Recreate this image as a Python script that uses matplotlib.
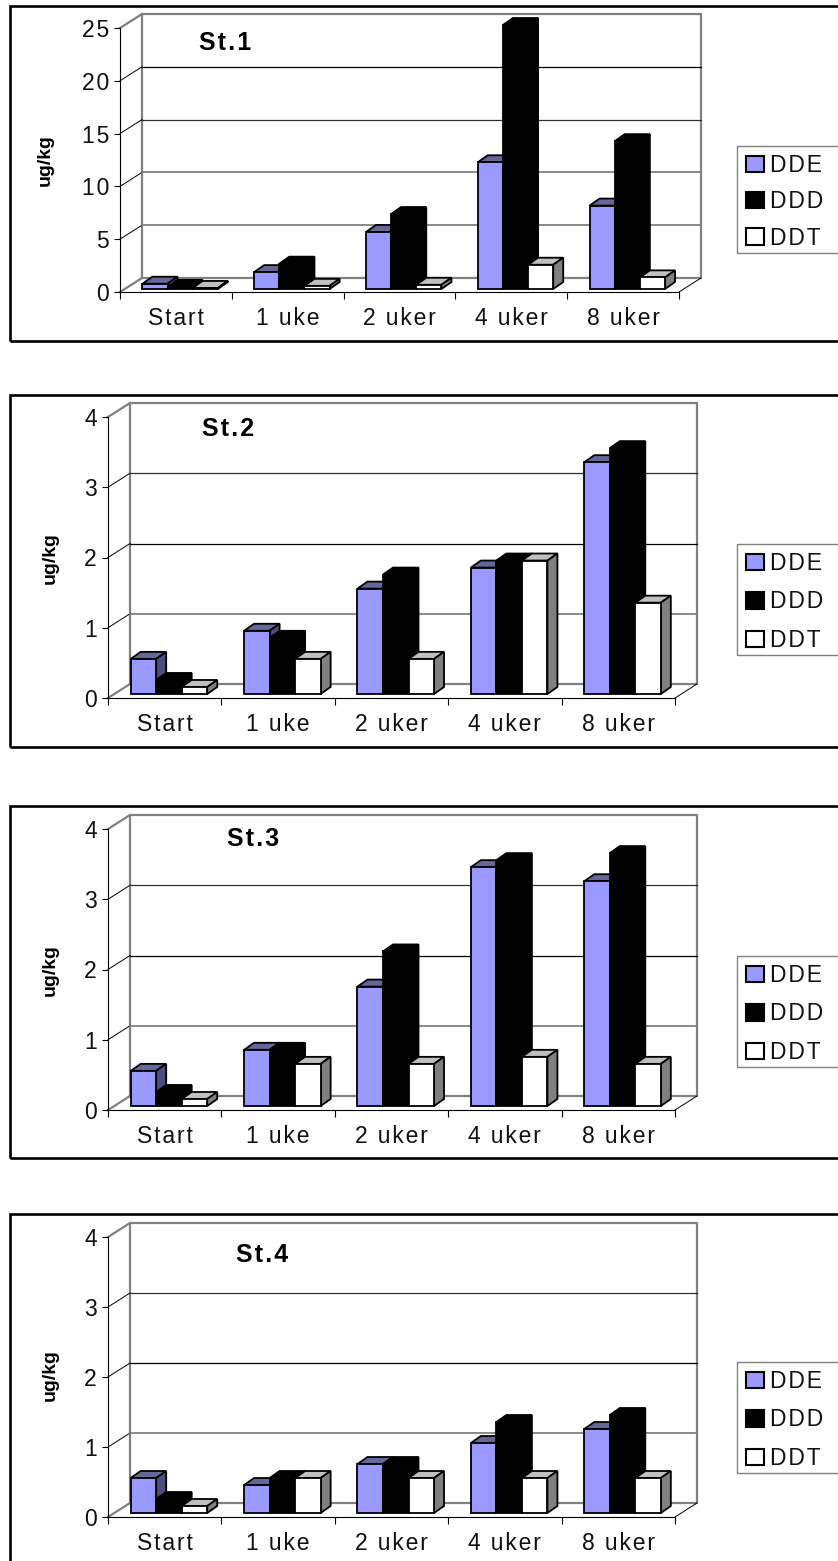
"""Four stations of DDE/DDD/DDT levels, drawn as fake-3D Excel style bars."""
import matplotlib
matplotlib.use("Agg")
import matplotlib.pyplot as plt
from matplotlib.patches import Patch, Polygon, Rectangle

plt.rcParams["font.family"] = ["Liberation Sans", "DejaVu Sans"]

WIDTH, HEIGHT = 838, 1561
HAIR = "\u200a"

categories = ["Start", "1 uke", "2 uker", "4 uker", "8 uker"]
series_names = ["DDE", "DDD", "DDT"]

st1_dde = [0.5, 1.6, 5.4, 12.0, 7.9]
st1_ddd = [0.2, 2.4, 7.1, 25.0, 14.0]
st1_ddt = [0.1, 0.3, 0.4, 2.3, 1.1]

st2_dde = [0.5, 0.9, 1.5, 1.8, 3.3]
st2_ddd = [0.2, 0.8, 1.7, 1.9, 3.5]
st2_ddt = [0.1, 0.5, 0.5, 1.9, 1.3]

st3_dde = [0.5, 0.8, 1.7, 3.4, 3.2]
st3_ddd = [0.2, 0.8, 2.2, 3.5, 3.6]
st3_ddt = [0.1, 0.6, 0.6, 0.7, 0.6]

st4_dde = [0.5, 0.4, 0.7, 1.0, 1.2]
st4_ddd = [0.2, 0.5, 0.7, 1.3, 1.4]
st4_ddt = [0.1, 0.5, 0.5, 0.5, 0.5]

st1_ticks = [0, 5, 10, 15, 20, 25]
other_ticks = [0, 1, 2, 3, 4]

# layout in reference pixels, kept apart from the values above
PANELS = [
    dict(title="St.1", values=(st1_dde, st1_ddd, st1_ddt), ticks=st1_ticks,
         left=120, right=679, zero=292, top=28, frame=(6, 341), lift=3,
         title_xy=(225, 43), label_y=160, label_x=45,
         legend_box=(146, 253), legend_gap=0.58,
         grid=["#808080", "#808080", "#303030", "#000000"]),
    dict(title="St.2", values=(st2_dde, st2_ddd, st2_ddt), ticks=other_ticks,
         left=108, right=675, zero=698, top=417, frame=(395, 747), lift=4,
         title_xy=(228, 429), label_y=558, label_x=50,
         legend_box=(544, 655), legend_gap=0.67,
         grid=["#808080", "#000000", "#303030"]),
    dict(title="St.3", values=(st3_dde, st3_ddd, st3_ddt), ticks=other_ticks,
         left=108, right=675, zero=1110, top=829, frame=(806, 1158), lift=4,
         title_xy=(253, 839), label_y=970, label_x=50,
         legend_box=(956, 1067), legend_gap=0.67,
         grid=["#808080", "#000000", "#303030"]),
    dict(title="St.4", values=(st4_dde, st4_ddd, st4_ddt), ticks=other_ticks,
         left=108, right=675, zero=1517, top=1237, frame=(1214, 1600), lift=4,
         title_xy=(262, 1255), label_y=1375, label_x=50,
         legend_box=(1362, 1473), legend_gap=0.67,
         grid=["#808080", "#000000", "#303030"]),
]

# front, top, side colours of each series
FACES = [("#9999ff", "#666699", "#4d4d80"),
         ("#000000", "#000000", "#000000"),
         ("#ffffff", "#c0c0c0", "#808080")]

WALL_DX, WALL_DY = 22, 14    # depth of the chart box
BAR_DX, BAR_DY = 10, 7       # depth of one bar
BAR_W = 0.225
GROUP_PAD = 0.2
WALL = "#808080"
LABEL_SIZE = 16.5


def spaced(text):
    return HAIR.join(text)


def fig_xy(x, y):
    return x / WIDTH, 1 - y / HEIGHT


def draw_panel(fig, p):
    ax = fig.add_axes([p["left"] / WIDTH, 1 - p["zero"] / HEIGHT,
                       (p["right"] - p["left"]) / WIDTH,
                       (p["zero"] - p["top"]) / HEIGHT])
    ymax = p["ticks"][-1]
    ax.set_xlim(0, len(categories))
    ax.set_ylim(0, ymax)
    ax.patch.set_visible(False)

    # data units per reference pixel
    ux = len(categories) / (p["right"] - p["left"])
    uy = ymax / (p["zero"] - p["top"])
    wall_x, wall_y = WALL_DX * ux, WALL_DY * uy
    n = len(categories)

    # back wall and floor
    ax.plot([wall_x, wall_x, n + wall_x, n + wall_x, wall_x],
            [wall_y, ymax + wall_y, ymax + wall_y, wall_y, wall_y],
            color=WALL, lw=1.6, clip_on=False, zorder=1)
    ax.plot([0, wall_x], [ymax, ymax + wall_y], color=WALL, lw=1.6,
            clip_on=False, zorder=1)
    ax.plot([0, wall_x], [0, wall_y], color=WALL, lw=1.6, clip_on=False, zorder=1)
    ax.plot([n, n + wall_x], [0, wall_y], color="black", lw=0.7,
            clip_on=False, zorder=1)

    for tick, colour in zip(p["ticks"][1:-1], p["grid"]):
        ax.plot([0, wall_x], [tick, tick + wall_y], color="black", lw=0.7,
                clip_on=False, zorder=1)
        ax.plot([wall_x, n + wall_x], [tick + wall_y] * 2, color=colour,
                lw=1.3 if colour == WALL else 0.9, clip_on=False, zorder=1)

    # bars, left to right so that later ones cover the depth of earlier ones
    dx, dy = BAR_DX * ux, BAR_DY * uy
    lift = p["lift"] * uy    # bars stand slightly behind the axis line
    order = 2
    for g in range(n):
        for s, vals in enumerate(p["values"]):
            front, top, side = FACES[s]
            x0 = g + GROUP_PAD + s * BAR_W
            bar = ax.bar(x0, vals[g], BAR_W, bottom=lift, align="edge",
                         color=front, edgecolor="black", lw=1.3,
                         clip_on=False, zorder=order + 2)[0]
            x1 = x0 + bar.get_width()
            y0, y1 = bar.get_y(), bar.get_y() + bar.get_height()
            ax.add_patch(Polygon([(x0, y1), (x1, y1), (x1 + dx, y1 + dy), (x0 + dx, y1 + dy)],
                                 facecolor=top, edgecolor="black", lw=1.3,
                                 clip_on=False, zorder=order))
            ax.add_patch(Polygon([(x1, y0), (x1 + dx, y0 + dy), (x1 + dx, y1 + dy), (x1, y1)],
                                 facecolor=side, edgecolor="black", lw=1.3,
                                 clip_on=False, zorder=order + 1))
            order += 3

    for name in ("top", "right"):
        ax.spines[name].set_visible(False)
    for name in ("left", "bottom"):
        ax.spines[name].set_linewidth(0.8)
        ax.spines[name].set_zorder(1.5)

    ax.set_yticks(p["ticks"])
    ax.set_yticklabels([spaced(str(t)) for t in p["ticks"]], fontsize=LABEL_SIZE,
                       color="#111111")
    ax.tick_params(axis="y", length=4, width=0.8, pad=4)
    ax.set_xticks(range(n + 1))
    ax.set_xticklabels([])
    ax.set_xticks([g + 0.5 for g in range(n)], minor=True)
    ax.set_xticklabels([spaced(c) for c in categories], minor=True, fontsize=LABEL_SIZE,
                       color="#111111")
    ax.tick_params(axis="x", which="major", length=5, width=0.8)
    ax.tick_params(axis="x", which="minor", length=0, pad=11)

    lx, ly = fig_xy(p["label_x"], p["label_y"])
    fig.text(lx, ly, "ug/kg", rotation=90, fontsize=14, fontweight="bold",
             ha="center", va="center")
    tx, ty = fig_xy(*p["title_xy"])
    fig.text(tx, ty, spaced(p["title"]), fontsize=18, fontweight="bold",
             ha="center", va="center")

    # black frame runs off the right edge of the page
    fx, fy = fig_xy(10, p["frame"][1])
    fig.add_artist(Rectangle((fx, fy), 900 / WIDTH, (p["frame"][1] - p["frame"][0]) / HEIGHT,
                             transform=fig.transFigure, facecolor="none",
                             edgecolor="black", lw=1.9))

    # legend box also runs off the page, so it is drawn apart from the entries
    box_top, box_bottom = p["legend_box"]
    box_x, box_y = fig_xy(737, box_bottom)
    fig.add_artist(Rectangle((box_x, box_y), 140 / WIDTH, (box_bottom - box_top) / HEIGHT,
                             transform=fig.transFigure, facecolor="white",
                             edgecolor=WALL, lw=1.0))
    handles = [Patch(facecolor=FACES[i][0], edgecolor="black", lw=1.5,
                     label=spaced(series_names[i])) for i in range(3)]
    fig.legend(handles=handles, loc="upper left",
               bbox_to_anchor=fig_xy(746, box_top + 8),
               borderaxespad=0, borderpad=0, frameon=False, fontsize=LABEL_SIZE,
               handlelength=0.78, handleheight=0.72, handletextpad=0.25,
               labelspacing=p["legend_gap"], labelcolor="#111111")


def main():
    fig = plt.figure(figsize=(WIDTH / 100, HEIGHT / 100), dpi=100, facecolor="white")
    for panel in PANELS:
        draw_panel(fig, panel)
    fig.savefig("out.png", dpi=100)


if __name__ == "__main__":
    main()
